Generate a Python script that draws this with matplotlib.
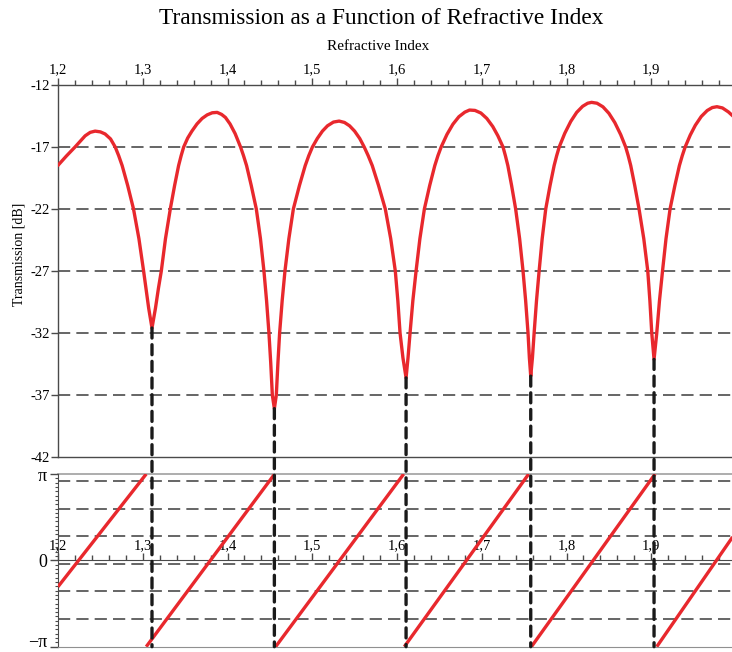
import numpy as np
import matplotlib
matplotlib.use("Agg")
import matplotlib.pyplot as plt
from matplotlib.ticker import MultipleLocator, FuncFormatter, FixedLocator
from matplotlib.patches import ConnectionPatch

plt.rcParams['font.family'] = ['Liberation Serif', 'DejaVu Serif']

# transmission [dB]
n_index = [1.2000, 1.2100, 1.2201, 1.2260, 1.2320, 1.2380, 1.2438, 1.2500, 1.2556,
           1.2620, 1.2675, 1.2716, 1.2757, 1.2822, 1.2891, 1.2955, 1.3010, 1.3070,
           1.3109, 1.3150, 1.3185, 1.3219, 1.3268, 1.3325, 1.3376, 1.3423, 1.3453,
           1.3483, 1.3530, 1.3580, 1.3640, 1.3700, 1.3760, 1.3820, 1.3878, 1.3930,
           1.3976, 1.4030, 1.4090, 1.4154, 1.4189, 1.4225, 1.4280, 1.4340, 1.4389,
           1.4430, 1.4461, 1.4489, 1.4510, 1.4529, 1.4553, 1.4576, 1.4595, 1.4615,
           1.4645, 1.4678, 1.4724, 1.4777, 1.4849, 1.4917, 1.4959, 1.5002, 1.5060,
           1.5120, 1.5180, 1.5250, 1.5317, 1.5380, 1.5440, 1.5500, 1.5560, 1.5613,
           1.5660, 1.5708, 1.5782, 1.5862, 1.5926, 1.5980, 1.6010, 1.6036, 1.6070,
           1.6107, 1.6130, 1.6154, 1.6187, 1.6225, 1.6270, 1.6323, 1.6386, 1.6446,
           1.6483, 1.6521, 1.6590, 1.6660, 1.6730, 1.6800, 1.6856, 1.6920, 1.6990,
           1.7060, 1.7130, 1.7190, 1.7251, 1.7279, 1.7308, 1.7352, 1.7400, 1.7447,
           1.7487, 1.7518, 1.7546, 1.7562, 1.7578, 1.7598, 1.7618, 1.7646, 1.7677,
           1.7713, 1.7755, 1.7806, 1.7854, 1.7884, 1.7914, 1.7980, 1.8050, 1.8120,
           1.8190, 1.8250, 1.8296, 1.8360, 1.8430, 1.8500, 1.8570, 1.8640, 1.8698,
           1.8728, 1.8758, 1.8805, 1.8856, 1.8912, 1.8959, 1.8984, 1.9006, 1.9033,
           1.9065, 1.9097, 1.9133, 1.9174, 1.9222, 1.9279, 1.9332, 1.9366, 1.9400,
           1.9460, 1.9520, 1.9590, 1.9660, 1.9720, 1.9775, 1.9840, 1.9910, 1.9973]
trans_db = [-18.48, -17.72, -17.00, -16.55, -16.10, -15.82, -15.72, -15.78, -15.95,
            -16.35, -17.00, -17.70, -18.50, -20.10, -22.00, -24.40, -27.00, -30.00,
            -31.60, -30.00, -28.40, -27.00, -24.40, -22.00, -20.10, -18.50, -17.70,
            -17.00, -16.28, -15.72, -15.14, -14.70, -14.41, -14.24, -14.21, -14.37,
            -14.62, -15.14, -15.92, -17.00, -17.70, -18.50, -20.10, -22.00, -24.40,
            -27.00, -29.40, -32.00, -34.40, -37.00, -38.10, -37.00, -34.40, -32.00,
            -29.40, -27.00, -24.40, -22.00, -20.10, -18.50, -17.70, -17.00, -16.31,
            -15.72, -15.29, -14.99, -14.91, -15.02, -15.29, -15.72, -16.31, -17.00,
            -17.70, -18.50, -20.10, -22.00, -24.40, -27.00, -29.40, -32.00, -34.00,
            -35.62, -34.00, -32.00, -29.40, -27.00, -24.40, -22.00, -20.10, -18.50,
            -17.70, -17.00, -15.98, -15.16, -14.56, -14.19, -14.02, -14.05, -14.26,
            -14.70, -15.35, -16.09, -17.00, -17.70, -18.50, -20.10, -22.00, -24.40,
            -27.00, -29.40, -32.00, -34.00, -35.48, -34.00, -32.00, -29.40, -27.00,
            -24.40, -22.00, -20.10, -18.50, -17.70, -17.00, -15.89, -14.94, -14.21,
            -13.72, -13.47, -13.40, -13.47, -13.76, -14.28, -15.03, -16.01, -17.00,
            -17.70, -18.50, -20.10, -22.00, -24.40, -27.00, -29.40, -32.00, -34.13,
            -32.00, -29.40, -27.00, -24.40, -22.00, -20.10, -18.50, -17.70, -17.00,
            -16.04, -15.25, -14.54, -14.06, -13.82, -13.75, -13.85, -14.17, -14.56]

# minima (dips)
dip_x = [1.3109, 1.4553, 1.6107, 1.7578, 1.9033]
dip_y = [-31.60, -38.10, -35.62, -35.48, -34.13]

# wrapped phase, one straight run per branch
phase_x = [[1.2000, 1.3041], [1.3041, 1.4556], [1.4568, 1.6079],
           [1.6086, 1.7554], [1.7586, 1.9045], [1.9065, 1.9960]]
phase_y = [[-0.96, np.pi], [-np.pi, np.pi], [-np.pi, np.pi],
           [-np.pi, np.pi], [-np.pi, np.pi], [-np.pi, 0.85]]

red = '#e8282d'
axc = '#4a4a4a'

fig = plt.figure(figsize=(7.32, 6.52), dpi=100)
ax1 = fig.add_axes([58 / 732, 1 - 457 / 652, 678 / 732, 372 / 652])
ax2 = fig.add_axes([58 / 732, 1 - 646.7 / 652, 678 / 732, 172.7 / 652])

comma = FuncFormatter(lambda v, p: ('%.1f' % v).replace('.', ',') if abs(v - 2) > 1e-6 else '2')

# ---- top panel: transmission
ax1.plot(n_index, trans_db, color=red, lw=2.4, solid_joinstyle='round',
         solid_capstyle='round', zorder=3)
ax1.set_xlim(1.2, 2.0)
ax1.set_ylim(-42, -12)
for g in [-17, -22, -27, -32, -37]:
    ax1.axhline(g, color='#3c3c3c', lw=1.1, dashes=(8, 4), zorder=1)
ax1.spines['right'].set_visible(False)
for s in ['top', 'left', 'bottom']:
    ax1.spines[s].set_color(axc)
    ax1.spines[s].set_linewidth(1.0)
ax1.xaxis.tick_top()
ax1.xaxis.set_major_locator(MultipleLocator(0.1))
ax1.xaxis.set_minor_locator(MultipleLocator(0.02))
ax1.xaxis.set_major_formatter(comma)
ax1.tick_params(axis='x', which='major', direction='out', length=5, width=1, colors=axc,
                labelcolor='black', labelsize=10.5, pad=1)
ax1.tick_params(axis='x', which='minor', direction='out', length=3.5, width=1, colors=axc)
ax1.set_yticks([-12, -17, -22, -27, -32, -37, -42])
ax1.set_yticklabels(['-12', '-17', '-22', '-27', '-32', '-37', '-42'])
ax1.tick_params(axis='y', direction='out', length=5, width=1, colors=axc,
                labelcolor='black', labelsize=10.5, pad=1)
ax1.set_ylabel('Transmission [dB]', fontsize=10)
ax1.yaxis.set_label_coords(-0.048, 0.545)

# ---- bottom panel: phase
for xs, ys in zip(phase_x, phase_y):
    ax2.plot(xs, ys, color=red, lw=2.4, solid_capstyle='butt', zorder=3)
ax2.set_xlim(1.2, 2.0)
ax2.set_ylim(-np.pi, np.pi)
for g in [3, 2, 1, 0, -1, -2]:
    ax2.axhline(g - 0.12, color='#3c3c3c', lw=1.1, dashes=(8, 4), zorder=1)
ax2.axhline(np.pi, color='#a0a0a0', lw=1.2, zorder=1, clip_on=False)
ax2.spines['right'].set_visible(False)
ax2.spines['bottom'].set_color('#909090')
ax2.spines['left'].set_color(axc)
ax2.spines['top'].set_color(axc)
ax2.spines['top'].set_position(('data', 0))
ax2.xaxis.tick_top()
ax2.xaxis.set_major_locator(MultipleLocator(0.1))
ax2.xaxis.set_minor_locator(MultipleLocator(0.02))
ax2.xaxis.set_major_formatter(comma)
ax2.tick_params(axis='x', which='major', direction='out', length=5, width=1, colors=axc,
                labelcolor='black', labelsize=10.5, pad=1)
ax2.tick_params(axis='x', which='minor', direction='out', length=3.5, width=1, colors=axc)
ax2.set_yticks([-np.pi, 0, np.pi])
ax2.set_yticklabels(['\u2212\u03c0', '0', '\u03c0'])
ax2.get_yticklabels()[0].set_va('baseline')
ax2.yaxis.set_minor_locator(FixedLocator(np.arange(-20, 21) * np.pi / 20))
ax2.tick_params(axis='y', which='major', direction='out', length=6, width=1, colors=axc,
                labelcolor='black', labelsize=13, pad=2)
ax2.tick_params(axis='y', which='minor', direction='out', length=2.5, width=0.8, colors=axc)

# dashed drop lines from each dip to the phase panel bottom
for xd, yd in zip(dip_x, dip_y):
    con = ConnectionPatch(xyA=(xd, yd), coordsA=ax1.transData,
                          xyB=(xd, -np.pi), coordsB=ax2.transData,
                          color='#1a1a1a', lw=2.4, linestyle=(0, (3, 2)), zorder=4)
    fig.add_artist(con)

fig.text(381 / 732, 1 - 19 / 652, 'Transmission as a Function of Refractive Index',
         ha='center', va='center', fontsize=16.8)
fig.text(378 / 732, 1 - 47 / 652, 'Refractive Index', ha='center', va='center', fontsize=11)

fig.savefig('out.png', dpi=100)
